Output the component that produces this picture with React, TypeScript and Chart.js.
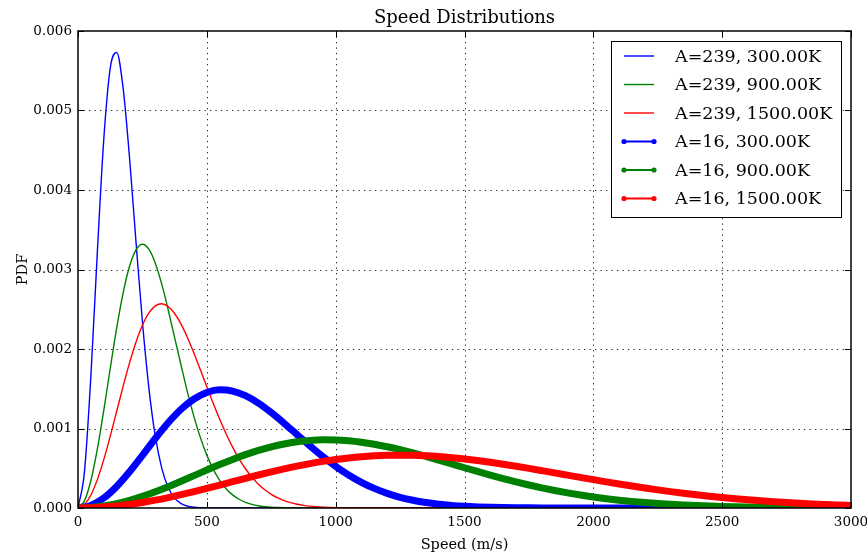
import React, { useEffect, useRef } from "react";
import { Chart, registerables } from "chart.js";

Chart.register(...registerables);

// Speeds (m/s) sampled for the heavy species (A=239): fine steps where the peaks are narrow
const speedsHeavy = [
  0, 25, 50, 75, 100, 125, 150, 175, 200, 225, 250, 275, 300, 325, 350, 375, 400,
  425, 450, 475, 500, 525, 550, 575, 600, 625, 650, 675, 700, 725, 750, 775, 800,
  825, 850, 875, 900, 925, 950, 975, 1000, 3000,
];

// Speeds (m/s) sampled for the light species (A=16)
const speedsLight = [
  0, 50, 100, 150, 200, 250, 300, 350, 400, 450, 500, 550, 600, 650, 700, 750, 800,
  850, 900, 950, 1000, 1050, 1100, 1150, 1200, 1250, 1300, 1350, 1400, 1450, 1500,
  1550, 1600, 1650, 1700, 1750, 1800, 1850, 1900, 1950, 2000, 2050, 2100, 2150,
  2200, 2250, 2300, 2350, 2400, 2450, 2500, 2550, 2600, 2650, 2700, 2750, 2800,
  2850, 2900, 2950, 3000,
];

// PDF values, A=239
const heavy300 = [
  0, 0.000454, 0.00166, 0.003215, 0.004635, 0.005531, 0.00573, 0.005284, 0.004405,
  0.003351, 0.002342, 0.001511, 0.000903, 0.000502, 0.000259, 0.000125, 0.000056,
  0.000024, 0.000009, 0.000003, 0.000001, 0, 0, 0, 0, 0, 0, 0, 0, 0, 0, 0, 0, 0, 0,
  0, 0, 0, 0, 0, 0, 0,
];
const heavy900 = [
  0, 0.0000891, 0.000346, 0.000741, 0.001228, 0.001753, 0.002262, 0.002704,
  0.003041, 0.003248, 0.003318, 0.003255, 0.003079, 0.002816, 0.002494, 0.002144,
  0.001796, 0.001454, 0.00115, 0.000885, 0.000665, 0.000486, 0.000348, 0.000243,
  0.000165, 0.00011, 0.0000715, 0.0000454, 0.0000282, 0.0000171, 0.0000102,
  0.0000059, 0.0000034, 0.0000019, 0.000001, 0, 0, 0, 0, 0, 0, 0,
];
const heavy1500 = [
  0, 0.0000416, 0.000163, 0.000357, 0.000608, 0.000901, 0.001214, 0.001529,
  0.001825, 0.002086, 0.002299, 0.002453, 0.002543, 0.00257, 0.002535, 0.002447,
  0.002312, 0.002142, 0.001947, 0.001738, 0.001525, 0.001315, 0.001116, 0.000931,
  0.000765, 0.000619, 0.000494, 0.000388, 0.0003, 0.000229, 0.000172, 0.000127,
  0.000093, 0.000067, 0.0000476, 0.0000334, 0.0000231, 0.0000157, 0.0000106,
  0.000007, 0.0000046, 0,
];

// PDF values, A=16
const light300 = [
  0, 0.0000321, 0.0001255, 0.0002713, 0.0004561, 0.000663, 0.0008741, 0.001072,
  0.0012415, 0.001371, 0.0014535, 0.0014862, 0.0014708, 0.001413, 0.0013194,
  0.0012004, 0.0010652, 0.000923, 0.0007815, 0.000647, 0.0005246, 0.000416,
  0.0003236, 0.0002466, 0.0001842, 0.0001349, 0.000097, 0.0000684, 0.0000473,
  0.0000321, 0.0000214, 0.000014, 0.000009, 0.0000057, 0.0000035, 0.0000022,
  0.0000013, 0.0000008, 0.0000004, 0.0000002, 0, 0, 0, 0, 0, 0, 0, 0, 0, 0, 0, 0,
  0, 0, 0, 0, 0, 0, 0, 0, 0,
];
const light900 = [
  0, 0.0000062, 0.0000247, 0.0000548, 0.0000956, 0.0001458, 0.0002039, 0.0002681,
  0.0003364, 0.0004068, 0.0004774, 0.0005461, 0.0006112, 0.0006709, 0.0007239,
  0.000769, 0.0008054, 0.0008325, 0.00085, 0.0008578, 0.0008564, 0.0008462,
  0.0008279, 0.0008024, 0.0007705, 0.0007334, 0.0006922, 0.0006479, 0.0006015,
  0.0005541, 0.0005064, 0.0004594, 0.0004137, 0.0003698, 0.0003282, 0.0002891,
  0.0002531, 0.0002199, 0.0001898, 0.0001628, 0.0001387, 0.0001173, 0.0000986,
  0.0000824, 0.0000684, 0.0000563, 0.0000462, 0.0000376, 0.0000304, 0.0000245,
  0.0000195, 0.0000155, 0.0000123, 0.0000096, 0.0000075, 0.0000058, 0.0000045,
  0.0000034, 0.0000026, 0.000002, 0.0000015,
];
const light1500 = [
  0, 0.0000029, 0.0000115, 0.0000257, 0.0000452, 0.0000696, 0.0000985, 0.0001313,
  0.0001674, 0.0002062, 0.0002469, 0.0002888, 0.0003313, 0.0003736, 0.0004149,
  0.0004546, 0.0004922, 0.000527, 0.0005585, 0.0005865, 0.0006104, 0.0006302,
  0.0006455, 0.0006564, 0.0006629, 0.0006649, 0.0006627, 0.0006564, 0.0006464,
  0.0006328, 0.000616, 0.0005965, 0.0005745, 0.0005505, 0.0005249, 0.0004979,
  0.00047, 0.0004417, 0.0004131, 0.0003846, 0.0003564, 0.0003289, 0.0003021,
  0.0002763, 0.0002516, 0.0002282, 0.0002061, 0.0001853, 0.000166, 0.0001481,
  0.0001315, 0.0001164, 0.0001026, 0.00009, 0.0000787, 0.0000686, 0.0000595,
  0.0000514, 0.0000443, 0.000038, 0.0000325,
];

const seriesLabels = [
  "A=239, 300.00K",
  "A=239, 900.00K",
  "A=239, 1500.00K",
  "A=16, 300.00K",
  "A=16, 900.00K",
  "A=16, 1500.00K",
];
const seriesColors = ["#0000ff", "#008000", "#ff0000", "#0000ff", "#008000", "#ff0000"];
const seriesSpeeds = [speedsHeavy, speedsHeavy, speedsHeavy, speedsLight, speedsLight, speedsLight];
const seriesValues = [heavy300, heavy900, heavy1500, light300, light900, light1500];
const seriesThick = [false, false, false, true, true, true];

const xTickValues = [0, 500, 1000, 1500, 2000, 2500, 3000];
const yTickValues = [0, 0.001, 0.002, 0.003, 0.004, 0.005, 0.006];

const titleText = "Speed Distributions";
const xTitleText = "Speed (m/s)";
const yTitleText = "PDF";

const SERIF = '"DejaVu Serif", "Liberation Serif", serif';

// Dotted grid underneath the curves
const gridPlugin = {
  id: "dottedGrid",
  beforeDatasetsDraw(chart: any) {
    const { ctx, chartArea: a, scales } = chart;
    ctx.save();
    ctx.strokeStyle = "rgba(0,0,0,0.85)";
    ctx.lineWidth = 1;
    ctx.setLineDash([1.3, 4.2]);
    xTickValues.slice(1, -1).forEach((v) => {
      const x = Math.round(scales.x.getPixelForValue(v)) + 0.5;
      ctx.beginPath();
      ctx.moveTo(x, a.top);
      ctx.lineTo(x, a.bottom);
      ctx.stroke();
    });
    yTickValues.slice(1, -1).forEach((v) => {
      const y = Math.round(scales.y.getPixelForValue(v)) + 0.5;
      ctx.beginPath();
      ctx.moveTo(a.left, y);
      ctx.lineTo(a.right, y);
      ctx.stroke();
    });
    ctx.restore();
  },
};

// Axes frame, inward tick marks, legend box and titles
const framePlugin = {
  id: "axesFrame",
  afterDatasetsDraw(chart: any) {
    const { ctx, chartArea: a, scales } = chart;
    ctx.save();
    ctx.setLineDash([]);
    ctx.strokeStyle = "#000";
    ctx.lineWidth = 1.5;
    ctx.strokeRect(a.left, a.top, a.right - a.left, a.bottom - a.top);

    ctx.lineWidth = 1;
    const tl = 6;
    xTickValues.forEach((v) => {
      const x = Math.round(scales.x.getPixelForValue(v)) + 0.5;
      ctx.beginPath();
      ctx.moveTo(x, a.bottom);
      ctx.lineTo(x, a.bottom - tl);
      ctx.moveTo(x, a.top);
      ctx.lineTo(x, a.top + tl);
      ctx.stroke();
    });
    yTickValues.forEach((v) => {
      const y = Math.round(scales.y.getPixelForValue(v)) + 0.5;
      ctx.beginPath();
      ctx.moveTo(a.left, y);
      ctx.lineTo(a.left + tl, y);
      ctx.moveTo(a.right, y);
      ctx.lineTo(a.right - tl, y);
      ctx.stroke();
    });

    // legend
    const bx = 611.5, by = 41.5, bw = 230, bh = 176;
    ctx.fillStyle = "#fff";
    ctx.fillRect(bx, by, bw, bh);
    ctx.strokeStyle = "#000";
    ctx.lineWidth = 1;
    ctx.strokeRect(bx, by, bw, bh);
    ctx.font = `17.5px ${SERIF}`;
    ctx.textAlign = "left";
    ctx.textBaseline = "middle";
    seriesLabels.forEach((label, i) => {
      const y = 56 + i * 28.5;
      const x0 = 624, x1 = 654;
      ctx.strokeStyle = seriesColors[i];
      ctx.lineWidth = seriesThick[i] ? 2 : 1.4;
      ctx.beginPath();
      ctx.moveTo(x0, y);
      ctx.lineTo(x1, y);
      ctx.stroke();
      if (seriesThick[i]) {
        ctx.fillStyle = seriesColors[i];
        [x0, x1].forEach((px) => {
          ctx.beginPath();
          ctx.arc(px, y, 2.6, 0, Math.PI * 2);
          ctx.fill();
        });
      }
      ctx.fillStyle = "#000";
      ctx.fillText(label, 675, y + 1);
    });
    ctx.restore();
  },
  afterDraw(chart: any) {
    const { ctx, chartArea: a } = chart;
    ctx.save();
    ctx.fillStyle = "#000";
    ctx.textAlign = "center";
    ctx.textBaseline = "alphabetic";
    ctx.font = `18px ${SERIF}`;
    ctx.fillText(titleText, (a.left + a.right) / 2, 22.5);
    ctx.font = `14.5px ${SERIF}`;
    ctx.fillText(xTitleText, (a.left + a.right) / 2, 549);
    ctx.translate(26.5, (a.top + a.bottom) / 2);
    ctx.rotate(-Math.PI / 2);
    ctx.fillText(yTitleText, 0, 0);
    ctx.restore();
  },
};

export default function App() {
  const canvasRef = useRef<HTMLCanvasElement | null>(null);

  useEffect(() => {
    if (!canvasRef.current) return;
    const datasets = seriesLabels.map((label, i) => ({
      label,
      data: seriesSpeeds[i].map((x, j) => ({ x, y: seriesValues[i][j] })),
      borderColor: seriesColors[i],
      backgroundColor: seriesColors[i],
      borderWidth: seriesThick[i] ? 7 : 1.4,
      pointRadius: 0,
      fill: false,
      cubicInterpolationMode: "monotone" as const,
      clip: 0,
      order: seriesLabels.length - 1 - i,
    }));

    const chart = new Chart(canvasRef.current, {
      type: "line",
      data: { datasets },
      options: {
        animation: false,
        responsive: false,
        maintainAspectRatio: false,
        devicePixelRatio: 1,
        layout: { padding: { top: 31, right: 16, left: 0, bottom: 0 } },
        plugins: {
          legend: { display: false },
          title: { display: false },
          tooltip: { enabled: false },
        },
        scales: {
          x: {
            type: "linear",
            min: 0,
            max: 3000,
            grid: { display: false, drawTicks: false },
            border: { display: false },
            ticks: {
              stepSize: 500,
              padding: 6,
              maxRotation: 0,
              autoSkip: false,
              color: "#000",
              font: { family: SERIF, size: 13.5 },
              callback: (v: any) => String(v),
            },
            afterFit: (s: any) => {
              s.height = 47;
              s.paddingLeft = 0;
              s.paddingRight = 0;
            },
          },
          y: {
            type: "linear",
            min: 0,
            max: 0.006,
            grid: { display: false, drawTicks: false },
            border: { display: false },
            ticks: {
              stepSize: 0.001,
              padding: 6,
              color: "#000",
              font: { family: SERIF, size: 13.5 },
              callback: (v: any) => Number(v).toFixed(3),
            },
            afterFit: (s: any) => {
              s.width = 78;
              s.paddingTop = 0;
              s.paddingBottom = 0;
            },
          },
        },
      },
      plugins: [gridPlugin, framePlugin],
    });
    return () => chart.destroy();
  }, []);

  return (
    <div style={{ position: "fixed", left: 0, top: 0, width: 867, height: 555, background: "#fff" }}>
      <canvas ref={canvasRef} width={867} height={555} style={{ display: "block" }} />
    </div>
  );
}
